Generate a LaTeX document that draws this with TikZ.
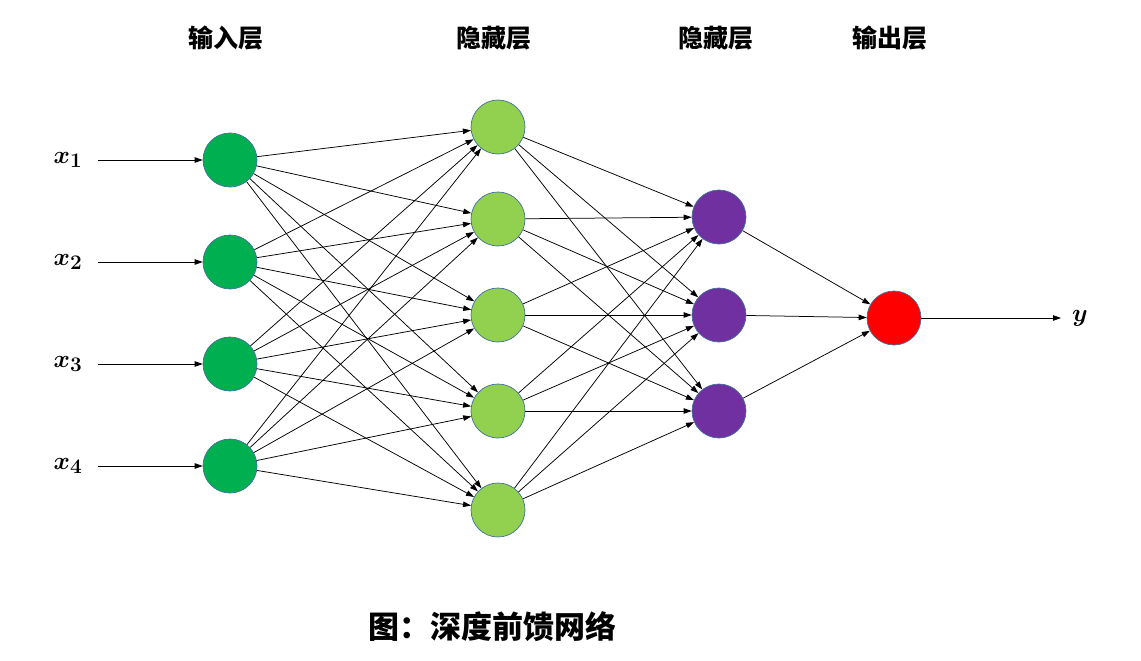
\documentclass[tikz,border=0pt]{standalone}
\usepackage{fontspec}
\usepackage{bm}
\newfontfamily\cjk{Noto Sans CJK SC}
\usetikzlibrary{arrows.meta}
\definecolor{ringblue}{HTML}{41719C}
\definecolor{ingreen}{HTML}{00B050}
\definecolor{hidgreen}{HTML}{92D050}
\definecolor{hidpurple}{HTML}{7030A0}
\definecolor{outred}{HTML}{FF0000}
\begin{document}
\begin{tikzpicture}[x=1pt,y=-1pt,
  neuron/.style={circle,minimum size=54pt,inner sep=0pt,draw=ringblue,line width=0.7pt},
  conn/.style={line width=0.75pt,-{Triangle[length=8pt,width=5.5pt]}},
  layertitle/.style={font=\cjk\fontsize{25}{29}\selectfont\bfseries},
  varlabel/.style={font=\fontsize{28}{32}\selectfont}]
\useasboundingbox[fill=white] (0,0) rectangle (1141,661);
% titles
\node[layertitle] (t1) at (226,38) {输入层};
\node[layertitle] (t2) at (494,38) {隐藏层};
\node[layertitle] (t3) at (716,38) {隐藏层};
\node[layertitle] (t4) at (890,38) {输出层};
% input layer
\foreach \k/\yy in {1/160,2/262,3/364,4/466}{
  \node[neuron,fill=ingreen] (i\k) at (230,\yy) {};
  \coordinate (s\k) at (98,\yy);
  \node[varlabel] (l\k) at (68,\yy) {$\bm{x_{\k}}$};
}
% hidden layer 1
\foreach \k/\yy in {1/127,2/219,3/315,4/411,5/510}{
  \node[neuron,fill=hidgreen] (h\k) at (498,\yy) {};
}
% hidden layer 2
\foreach \k/\yy in {1/217,2/315,3/411}{
  \node[neuron,fill=hidpurple] (g\k) at (719,\yy) {};
}
% output
\node[neuron,fill=outred] (o) at (894,318) {};
\coordinate (e) at (1061,318);
\node[varlabel] (ly) at (1080,318) {$\bm{y}$};
% connections
\foreach \k in {1,...,4}{\draw[conn] (s\k) -- (i\k);}
\foreach \a in {1,...,4}{\foreach \b in {1,...,5}{\draw[conn] (i\a) -- (h\b);}}
\foreach \a in {1,...,5}{\foreach \b in {1,...,3}{\draw[conn] (h\a) -- (g\b);}}
\foreach \a in {1,...,3}{\draw[conn] (g\a) -- (o);}
\draw[conn] (o) -- (e);
% caption
\node[font=\cjk\fontsize{31}{36}\selectfont\bfseries] (cap) at (492,627) {图：深度前馈网络};
\end{tikzpicture}
\end{document}
